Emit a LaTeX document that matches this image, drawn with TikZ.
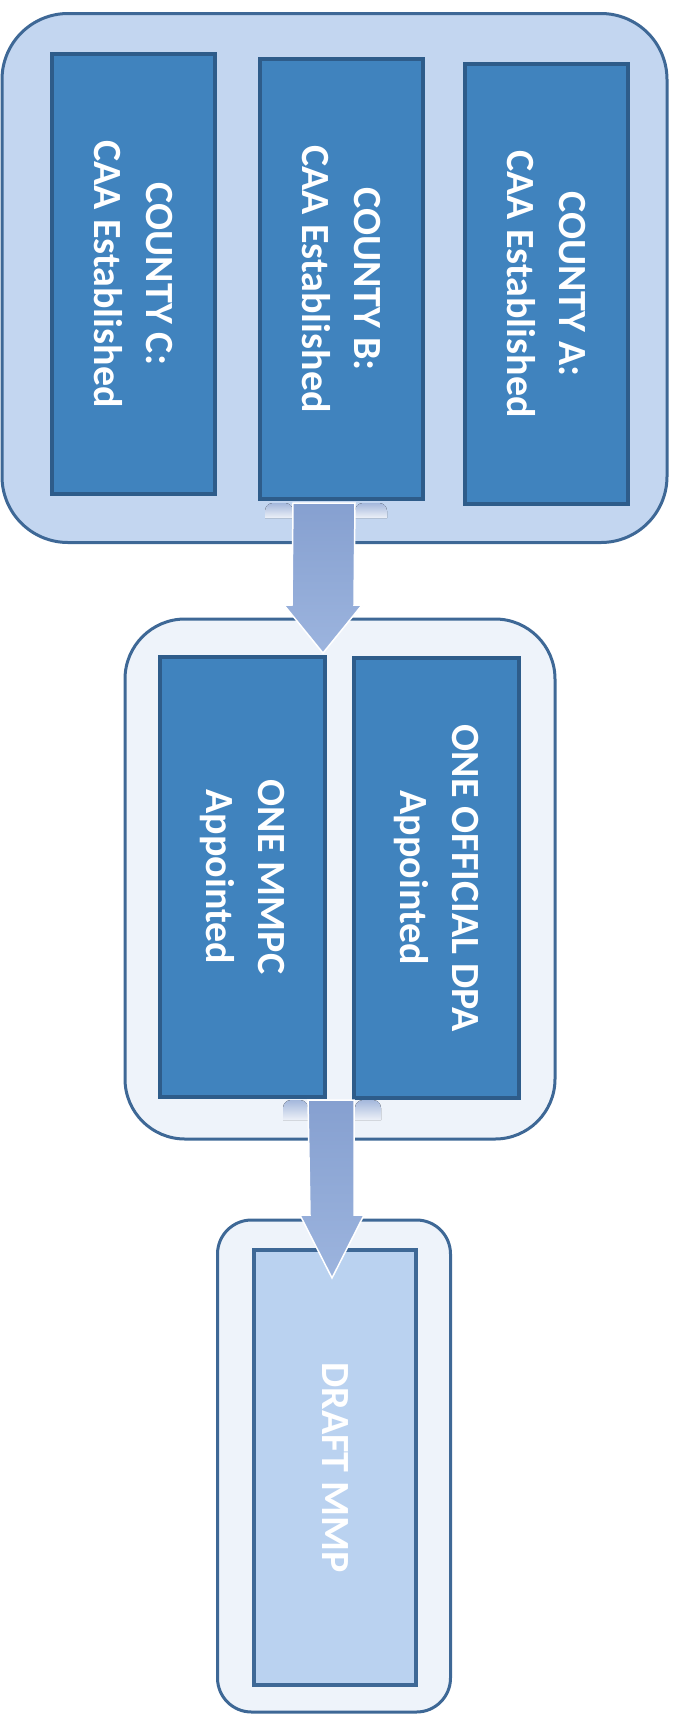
\documentclass[tikz,border=0pt]{standalone}
\usepackage{fontspec}
\setmainfont{Carlito}
\usetikzlibrary{calc}

\definecolor{grpfillA}{RGB}{195,214,240}
\definecolor{grpfillB}{RGB}{238,243,250}
\definecolor{grpline}{RGB}{62,104,150}
\definecolor{itemfill}{RGB}{64,131,190}
\definecolor{itemline}{RGB}{46,92,138}
\definecolor{draftfill}{RGB}{186,210,240}
\definecolor{arrowtop}{RGB}{134,160,208}
\definecolor{arrowbot}{RGB}{156,180,222}

\begin{document}
\begin{tikzpicture}[x=1pt,y=-1pt,
	grpbox/.style={draw=grpline,line width=3pt},
	itembox/.style={draw=itemline,fill=itemfill,line width=4pt,rotate=-90,
		minimum width=440,minimum height=163,align=center,text=white,
		font=\bfseries\fontsize{40}{52}\selectfont},
	fatarrow/.style={draw=white,line width=1.5pt,top color=arrowtop,bottom color=arrowbot},
	bump/.style={top color=arrowtop!75,bottom color=arrowtop!15}]
	\useasboundingbox (0,0) rectangle (678,1722);
	% first group: the three counties
	\node[grpbox,fill=grpfillA,rounded corners=66,minimum width=665,minimum height=529] (grp1) at (334.5,278) {};
	\node[itembox] (cntC) at (133,274) {COUNTY C:\\CAA Established};
	\node[itembox] (cntB) at (341,279) {COUNTY B:\\CAA Established};
	\node[itembox] (cntA) at (546,284) {COUNTY A:\\CAA Established};
	% second group: appointments
	\node[grpbox,fill=grpfillB,rounded corners=60,minimum width=430,minimum height=520] (grp2) at (340,879) {};
	\node[itembox,minimum height=165] (mmpc) at (242.5,877) {ONE MMPC\\Appointed};
	\node[itembox,minimum height=165] (dpa) at (436,878) {ONE OFFICIAL DPA\\Appointed};
	% third group: the draft
	\node[grpbox,fill=grpfillB,rounded corners=34,minimum width=233,minimum height=492] (grp3) at (334,1466) {};
	\node[itembox,draw=grpline,fill=draftfill,minimum width=435,minimum height=162] (draft) at (335,1467.5) {DRAFT MMP};
	% arrows between the groups
	\coordinate (ar1top) at (324,503);
	\coordinate (ar1tip) at (323,653);
	\fill[bump] (265,518) -- (265,511) arc[start angle=180,end angle=270,radius=8] -- (285,503)
		arc[start angle=270,end angle=360,radius=8] -- (293,518) -- cycle;
	\fill[bump] (355,518) -- (355,511) arc[start angle=180,end angle=270,radius=8] -- (379,503)
		arc[start angle=270,end angle=360,radius=8] -- (387,518) -- cycle;
	\draw[fatarrow] ($(ar1top)+(-31,0)$) -- ($(ar1top)+(31,0)$) -- ($(ar1tip)+(31,-48)$)
		-- ($(ar1tip)+(39,-48)$) -- (ar1tip) -- ($(ar1tip)+(-39,-48)$)
		-- ($(ar1tip)+(-31,-48)$) -- cycle;
	\coordinate (ar2top) at (331,1100);
	\coordinate (ar2tip) at (332,1278);
	\fill[bump] (283,1120) -- (283,1108) arc[start angle=180,end angle=270,radius=8] -- (300,1100)
		arc[start angle=270,end angle=360,radius=8] -- (308,1120) -- cycle;
	\fill[bump] (355,1120) -- (355,1108) arc[start angle=180,end angle=270,radius=8] -- (373,1100)
		arc[start angle=270,end angle=360,radius=8] -- (381,1120) -- cycle;
	\draw[fatarrow] ($(ar2top)+(-23,0)$) -- ($(ar2top)+(23,0)$) -- ($(ar2tip)+(22,-63)$)
		-- ($(ar2tip)+(32,-63)$) -- (ar2tip) -- ($(ar2tip)+(-32,-63)$)
		-- ($(ar2tip)+(-22,-63)$) -- cycle;
\end{tikzpicture}
\end{document}
